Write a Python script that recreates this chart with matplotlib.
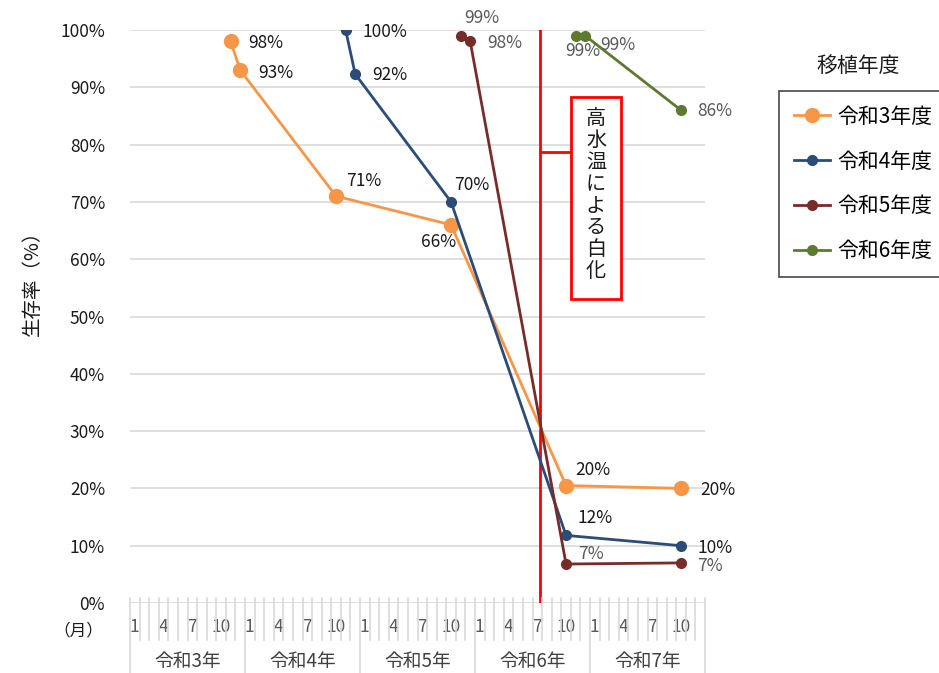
import matplotlib
matplotlib.use("Agg")
import matplotlib.pyplot as plt
from matplotlib.patches import Rectangle

plt.rcParams['font.family'] = ['Noto Sans CJK JP', 'DejaVu Sans']

# --- data -------------------------------------------------------------
years = [3, 4, 5, 6, 7]
year_labels = ["令和3年", "令和4年", "令和5年", "令和6年", "令和7年"]
month_ticks = [1, 4, 7, 10]

series_names = ["令和3年度", "令和4年度", "令和5年度", "令和6年度"]

r3_dates = [(3, 11), (3, 12), (4, 10), (5, 10), (6, 10), (7, 10)]
r3_values = [98, 93, 71, 66, 20.5, 20]
r3_labels = ["98%", "93%", "71%", "66%", "20%", "20%"]

r4_dates = [(4, 11), (4, 12), (5, 10), (6, 10), (7, 10)]
r4_values = [100, 92.3, 70, 11.8, 10]
r4_labels = ["100%", "92%", "70%", "12%", "10%"]

r5_dates = [(5, 11), (5, 12), (6, 10), (7, 10)]
r5_values = [99, 98, 6.8, 7]
r5_labels = ["99%", "98%", "7%", "7%"]

r6_dates = [(6, 11), (6, 12), (7, 10)]
r6_values = [99, 99, 86]
r6_labels = ["99%", "99%", "86%"]

event_date = (6, 7.3)
event_text = "高水温による白化"


def month_pos(date):
    y, m = date
    return (y - years[0]) * 12 + (m - 1) + 0.5


# --- styling ----------------------------------------------------------
colors = ["#F79646", "#2B4C77", "#772C2A", "#5E7A2F"]
msizes = [10, 7, 7, 7]
label_colors = ["#1a1a1a", "#1a1a1a", "#595959", "#595959"]
# label offsets in pixels (dx right, dy up) for each point
offsets = [
    [(18, -2), (18, -3), (10, 15), (-30, -17), (9, 16), (19, -2)],
    [(17, -2), (17, -1), (3, 17), (11, 17), (16, -2)],
    [(4, 18), (17, -2), (12, 10), (16, -3)],
    [(-10, -15), (15, -9), (16, -1)],
]

W, H, DPI = 939, 673, 100
fig = plt.figure(figsize=(W / DPI, H / DPI), dpi=DPI)
L, R, T, B = 130, 705, 30, 603
ax = fig.add_axes([L / W, 1 - B / H, (R - L) / W, (B - T) / H])

n_months = len(years) * 12
ax.set_xlim(0, n_months)
ax.set_ylim(0, 100)

for s in ax.spines.values():
    s.set_visible(False)

ax.set_yticks(range(0, 101, 10))
ax.set_yticklabels([f"{v}%" for v in range(0, 101, 10)], fontsize=12.5, color="#1a1a1a")
ax.yaxis.grid(True, color="#d9d9d9", linewidth=1.2)
ax.set_axisbelow(True)
ax.tick_params(axis="y", length=0, pad=18)

# month ticks / labels
xt, xl = [], []
for y in years:
    for m in month_ticks:
        xt.append(month_pos((y, m)))
        xl.append(str(m))
ax.set_xticks(xt)
ax.set_xticklabels(xl, fontsize=12.5, color="#595959")
ax.tick_params(axis="x", length=0, pad=11)

xtr = ax.get_xaxis_transform()
ah = B - T
top_y = 5 / ah
mid_y = -(640 - B) / ah
bot_y = -(H - B) / ah
for i in range(n_months + 1):
    y_end = bot_y if i % 12 == 0 else mid_y
    ax.plot([i, i], [top_y, y_end], transform=xtr, color="#d9d9d9", lw=1.2, clip_on=False)

for yi, lab in enumerate(year_labels):
    ax.text(yi * 12 + 6, -(662 - B) / ah, lab, transform=xtr, ha="center", va="center",
            fontsize=13.5, color="#404040")

fig.text(78 / W, 1 - 631 / H, "（月）", ha="center", va="center", fontsize=12, color="#1a1a1a")
fig.text(32 / W, 1 - 278 / H, "生存率（%）", ha="center", va="center", rotation=90,
         fontsize=14, color="#1a1a1a")

# event line and callout
ex = month_pos(event_date)
ax.plot([ex, ex], [0, 100], color="#FF0000", lw=2, zorder=1)
box_x0, box_x1 = (571 - L) / (R - L) * n_months, (621 - L) / (R - L) * n_months
box_y0, box_y1 = (B - 299) / ah * 100, (B - 97) / ah * 100
ax.add_patch(Rectangle((box_x0, box_y0), box_x1 - box_x0, box_y1 - box_y0,
                       fill=True, facecolor="white", edgecolor="#FF0000", lw=2, zorder=6))
conn_y = (B - 152) / ah * 100
ax.plot([ex, box_x0], [conn_y, conn_y], color="#FF0000", lw=2, zorder=5)
ax.text((box_x0 + box_x1) / 2, (box_y0 + box_y1) / 2 + 0.5, "\n".join(event_text),
        ha="center", va="center", fontsize=14.5, color="#1a1a1a", linespacing=1.05, zorder=7)

# series
all_dates = [r3_dates, r4_dates, r5_dates, r6_dates]
all_values = [r3_values, r4_values, r5_values, r6_values]
all_labels = [r3_labels, r4_labels, r5_labels, r6_labels]
handles = []
for k in range(4):
    xs = [month_pos(d) for d in all_dates[k]]
    h, = ax.plot(xs, all_values[k], color=colors[k], lw=2, marker="o",
                 markersize=msizes[k], zorder=3 + k * 0.1, label=series_names[k])
    handles.append(h)
    for x, v, lab, (dx, dy) in zip(xs, all_values[k], all_labels[k], offsets[k]):
        ax.annotate(lab, (x, v), xytext=(dx, dy), textcoords="offset pixels",
                    ha="left", va="center", fontsize=12.5, color=label_colors[k], zorder=8)

leg = fig.legend(handles=handles, loc="upper left",
                 bbox_to_anchor=(779 / W, 1 - 91 / H), fontsize=15,
                 frameon=True, fancybox=False, edgecolor="#1a1a1a",
                 labelspacing=1.1, handlelength=1.75, handletextpad=0.35,
                 borderpad=0.7, borderaxespad=0)
leg.get_frame().set_linewidth(1.2)
fig.text(858 / W, 1 - 66 / H, "移植年度", ha="center", va="center", fontsize=15, color="#1a1a1a")

fig.savefig("out.png", dpi=DPI)
